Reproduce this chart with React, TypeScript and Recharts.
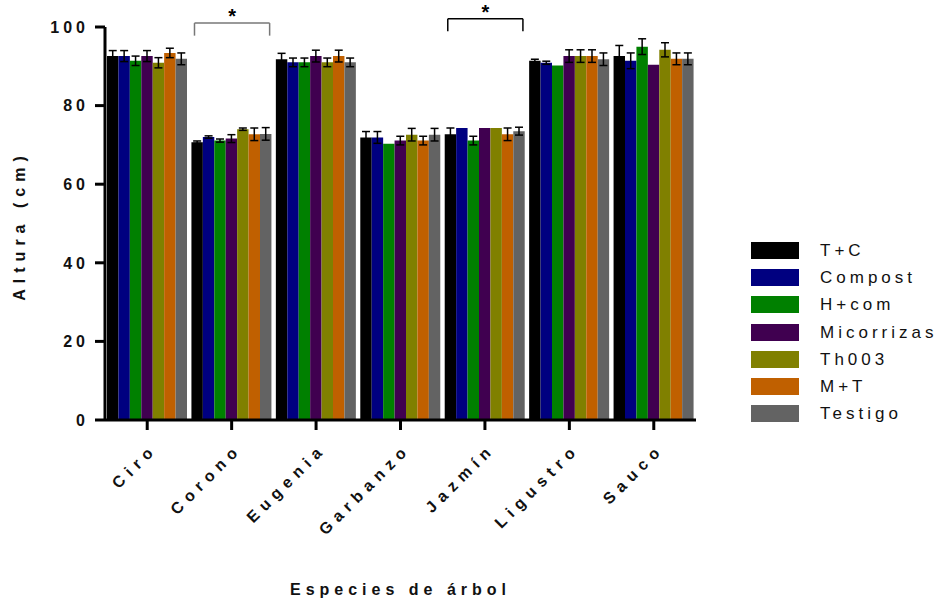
import { BarChart, Bar, XAxis, YAxis, ErrorBar, ReferenceLine } from 'recharts';

const FONT = '"Liberation Sans", Arial, sans-serif';

const categories = ['Ciro', 'Corono', 'Eugenia', 'Garbanzo', 'Jazmín', 'Ligustro', 'Sauco'];
const seriesNames = ['T+C', 'Compost', 'H+com', 'Micorrizas', 'Th003', 'M+T', 'Testigo'];
const seriesColors = ['#000000', '#000080', '#008000', '#400050', '#808000', '#c06000', '#636363'];

// mean height per series, one value per category
const tcValues = [92.6, 70.7, 91.8, 71.9, 72.7, 91.4, 92.6];
const compostValues = [92.6, 72.0, 91.0, 71.9, 74.3, 90.9, 91.4];
const hcomValues = [91.4, 71.1, 91.0, 70.3, 71.1, 90.2, 95.0];
const micorrizasValues = [92.6, 71.6, 92.6, 71.1, 74.3, 92.6, 90.4];
const th003Values = [90.9, 74.0, 91.0, 72.6, 74.3, 92.6, 94.2];
const mtValues = [93.4, 72.7, 92.6, 71.1, 72.7, 92.6, 91.9];
const testigoValues = [91.9, 72.8, 91.0, 72.6, 73.5, 91.8, 91.9];

// error bar sizes (null = none drawn)
const tcErr = [1.4, 0.3, 1.5, 1.5, 1.6, 0.4, 2.7];
const compostErr = [1.4, 0.3, 1.1, 1.5, null, 0.4, 2.0];
const hcomErr = [1.2, 0.4, 1.1, null, 1.1, null, 2.0];
const micorrizasErr = [1.4, 1.0, 1.5, 1.1, null, 1.6, null];
const th003Err = [1.3, 0.3, 1.1, 1.6, null, 1.6, 1.8];
const mtErr = [1.2, 1.6, 1.5, 1.1, 1.6, 1.6, 1.5];
const testigoErr = [1.5, 1.6, 1.1, 1.6, 1.0, 1.6, 1.5];

const yTicks = [0, 20, 40, 60, 80, 100];

// significance brackets
const sigCategories = ['Corono', 'Jazmín'];
const sigTop = [101.0, 102.1];
const sigColors = ['#777777', '#000000'];

const allValues = [tcValues, compostValues, hcomValues, micorrizasValues, th003Values, mtValues, testigoValues];
const allErrors = [tcErr, compostErr, hcomErr, micorrizasErr, th003Err, mtErr, testigoErr];

const data = categories.map((name, i) => {
  const row: any = { name, idx: i + 0.5 };
  seriesNames.forEach((_, j) => {
    row['s' + j] = allValues[j][i];
    row['e' + j] = allErrors[j][i];
  });
  return row;
});

const XTick = (props: any) => {
  const { x, y, payload } = props;
  const ax = x + 11;
  const ay = y + 18;
  return (
    <text x={ax} y={ay} textAnchor="end" transform={`rotate(-45, ${ax}, ${ay})`}
      fontSize={16} fontWeight="bold" letterSpacing={6} fill="#111" fontFamily={FONT}>
      {payload.value}
    </text>
  );
};

const YTick = (props: any) => {
  const { x, y, payload } = props;
  return (
    <text x={x} y={y} dy="0.36em" textAnchor="end" fontSize={16} fontWeight="bold"
      letterSpacing={4} fill="#111" fontFamily={FONT}>
      {payload.value}
    </text>
  );
};

export default function App() {
  return (
    <div style={{ position: 'absolute', left: 0, top: 0, width: 940, height: 603, background: '#fff', fontFamily: FONT }}>
      <BarChart width={940} height={603} data={data}
        margin={{ top: 27, right: 244, bottom: 0, left: 0 }}
        barSize={80 / 7} barGap={0}>
        <XAxis dataKey="name" height={183} tick={<XTick />} interval={0}
          axisLine={{ stroke: '#000', strokeWidth: 3 }}
          tickLine={{ stroke: '#000', strokeWidth: 3 }} tickSize={10}
          label={{ value: 'Especies de árbol', position: 'insideBottom', offset: 8, fontSize: 16, fontWeight: 'bold', fill: '#111', letterSpacing: 5, fontFamily: FONT }} />
        <XAxis xAxisId="pos" dataKey="idx" type="number" domain={[0, 7]} allowDataOverflow hide />
        <YAxis width={105} domain={[0, 100]} ticks={yTicks} tick={<YTick />} tickSize={10} tickMargin={6}
          axisLine={{ stroke: '#000', strokeWidth: 3 }}
          tickLine={{ stroke: '#000', strokeWidth: 3 }}
          label={{ value: 'Altura (cm)', angle: -90, position: 'center', dx: -33, dy: 2, fontSize: 16, fontWeight: 'bold', fill: '#111', letterSpacing: 6, fontFamily: FONT }} />
        {seriesNames.map((s, j) => (
          <Bar key={s} dataKey={'s' + j} name={s} fill={seriesColors[j]} isAnimationActive={false}>
            <ErrorBar dataKey={'e' + j} width={4} stroke="#000" strokeWidth={1.5} />
          </Bar>
        ))}
        {sigCategories.map((c, k) => {
          const i = categories.indexOf(c);
          const a = i + 0.06;
          const b = i + 0.95;
          const top = sigTop[k];
          const bottom = top - 3.2;
          return [
            <ReferenceLine key={c + 'h'} xAxisId="pos" ifOverflow="visible" stroke={sigColors[k]} strokeWidth={1.5}
              segment={[{ x: a, y: top }, { x: b, y: top }]}
              label={{ value: '*', position: 'top', offset: 0, fontSize: 20, fontWeight: 'bold', fill: '#000', fontFamily: FONT }} />,
            <ReferenceLine key={c + 'l'} xAxisId="pos" ifOverflow="visible" stroke={sigColors[k]} strokeWidth={1.5}
              segment={[{ x: a, y: top }, { x: a, y: bottom }]} />,
            <ReferenceLine key={c + 'r'} xAxisId="pos" ifOverflow="visible" stroke={sigColors[k]} strokeWidth={1.5}
              segment={[{ x: b, y: top }, { x: b, y: bottom }]} />,
          ];
        })}
      </BarChart>
      <div style={{ position: 'absolute', left: 751, top: 242 }}>
        {seriesNames.map((s, j) => (
          <div key={s} style={{ position: 'absolute', left: 0, top: j * 27.2, display: 'flex', alignItems: 'center', height: 17 }}>
            <div style={{ width: 48, height: 17, background: seriesColors[j] }} />
            <span style={{ marginLeft: 21, fontSize: 17, letterSpacing: 4, color: '#111', whiteSpace: 'nowrap', lineHeight: '17px' }}>{s}</span>
          </div>
        ))}
      </div>
    </div>
  );
}
